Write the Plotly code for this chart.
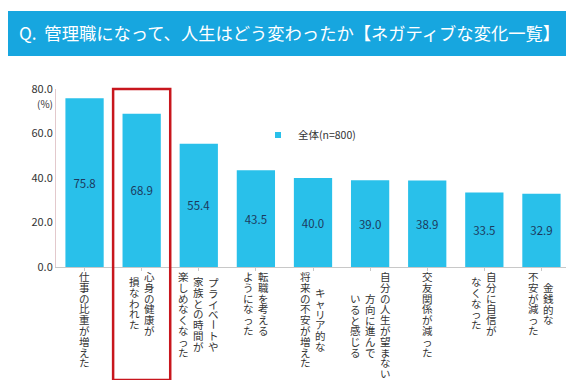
import plotly.graph_objects as go

categories = [
    "仕事の比重が増えた",
    "心身の健康が損なわれた",
    "プライベートや家族との時間が楽しめなくなった",
    "転職を考えるようになった",
    "キャリア的な将来の不安が増えた",
    "自分の人生が望まない方向に進んでいると感じる",
    "交友関係が減った",
    "自分に自信がなくなった",
    "金銭的な不安が減った",
]
# label columns (vertical writing, right-to-left)
label_columns = [
    ["仕事の比重が増えた"],
    ["心身の健康が", "損なわれた"],
    ["プライベートや", "家族との時間が", "楽しめなくなった"],
    ["転職を考える", "ようになった"],
    ["キャリア的な", "将来の不安が増えた"],
    ["自分の人生が望まない", "方向に進んで", "いると感じる"],
    ["交友関係が減った"],
    ["自分に自信が", "なくなった"],
    ["金銭的な", "不安が減った"],
]
values = [75.8, 68.9, 55.4, 43.5, 40.0, 39.0, 38.9, 33.5, 32.9]
series_name = "全体(n=800)"
y_ticks = [0, 20, 40, 60, 80]
y_tick_labels = ["0.0", "20.0", "40.0", "60.0", "80.0"]
title_text = "Q.  管理職になって、人生はどう変わったか【ネガティブな変化一覧】"

FONT = "Noto Sans CJK JP"
BAR_COLOR = "#29c0ea"
W, H = 574, 380
ML, MR, MT, MB = 48, 12, 81, 121
plot_h = H - MT - MB
plot_w = W - ML - MR


def py2paper(py):
    return (H - MB - py) / plot_h


def px2paper(px):
    return (px - ML) / plot_w


fig = go.Figure()
fig.add_trace(go.Bar(
    x=list(range(len(values))),
    y=values,
    name=series_name,
    legendgroup="all",
    marker=dict(color=BAR_COLOR, line=dict(width=0)),
    text=[f"{v:.1f}" for v in values],
    textposition="inside",
    insidetextanchor="middle",
    textfont=dict(family=FONT, size=11.5, color="#1c3a5e"),
    showlegend=False,
))
# legend entry with a small square key, as in the reference
fig.add_trace(go.Scatter(
    x=[None], y=[None], mode="markers", name=series_name, legendgroup="all",
    marker=dict(symbol="square", size=6, color=BAR_COLOR), showlegend=True,
))

annotations = []
# title
annotations.append(dict(
    text=title_text, xref="paper", yref="paper",
    x=px2paper(9), y=py2paper(25), xanchor="left", yanchor="middle",
    showarrow=False, font=dict(family=FONT, size=17.3, color="white"),
))
# (%) label
annotations.append(dict(
    text="(%)", xref="paper", yref="paper",
    x=px2paper(37), y=py2paper(95), xanchor="center", yanchor="middle",
    showarrow=False, font=dict(family=FONT, size=10, color="#333333"),
))

# vertical category labels
pitch = 10.8
col_pitch = 15
top = 263
glyph = 10.5
base = pitch / 1.3  # plotly line spacing is 1.3em of the base font


def add_segment(i, xs, chars, k0, off, angle=0):
    m = len(chars)
    cy = top + off + (k0 + m / 2) * pitch
    if angle:
        txt = chars
        fsize = glyph
    else:
        txt = "<br>".join(f'<span style="font-size:{glyph}px">{c}</span>' for c in chars)
        fsize = base
    annotations.append(dict(
        text=txt, xref="x", yref="paper", x=i, xshift=xs,
        y=py2paper(cy), xanchor="center", yanchor="middle",
        showarrow=False, textangle=angle, borderpad=0,
        font=dict(family=FONT, size=fsize, color="#333333"),
    ))


for i, cols in enumerate(label_columns):
    n = len(cols)
    lmax = max(len(c) for c in cols)
    for j, col in enumerate(cols):
        xs = ((n - 1) / 2 - j) * col_pitch   # first column on the right
        off = (lmax - len(col)) * pitch / 2
        seg = ""
        start = 0
        for k, ch in enumerate(col):
            if ch == "ー":
                if seg:
                    add_segment(i, xs, seg, start, off)
                add_segment(i, xs, ch, k, off, angle=90)
                seg = ""
                start = k + 1
            else:
                seg += ch
        if seg:
            add_segment(i, xs, seg, start, off)

shapes = [
    dict(type="rect", xref="paper", yref="paper",
         x0=px2paper(0), x1=px2paper(574), y0=py2paper(48), y1=py2paper(3),
         fillcolor="#17a6df", line=dict(width=0), layer="below"),
    dict(type="rect", xref="x", yref="paper",
         x0=0.5, x1=1.5, y0=py2paper(372), y1=py2paper(81),
         fillcolor="rgba(0,0,0,0)", line=dict(color="#c8161d", width=2.5)),
]

fig.update_layout(
    width=W, height=H,
    margin=dict(l=ML, r=MR, t=MT, b=MB),
    paper_bgcolor="white", plot_bgcolor="white",
    bargap=0.33,
    font=dict(family=FONT, size=11, color="#333333"),
    annotations=annotations,
    shapes=shapes,
    legend=dict(x=px2paper(250), y=py2paper(127), xanchor="left", yanchor="middle",
                font=dict(family=FONT, size=10.5, color="#333333"),
                bgcolor="rgba(0,0,0,0)", itemwidth=30),
    showlegend=True,
)
fig.update_xaxes(
    range=[-0.5, len(values) - 0.5],
    showticklabels=False, showgrid=False, zeroline=False,
    showline=True, linecolor="#c8c8c8", linewidth=1,
    ticks="outside", tickson="boundaries", ticklen=3, tickcolor="#c8c8c8",
    tickmode="array", tickvals=list(range(len(values))),
)
fig.update_yaxes(
    range=[0, 80], tickvals=y_ticks, ticktext=y_tick_labels,
    showgrid=False, zeroline=False,
    showline=True, linecolor="#e3c9cc", linewidth=1,
    ticks="", tickfont=dict(family=FONT, size=11, color="#333333"),
)

fig.write_html("out.html")
